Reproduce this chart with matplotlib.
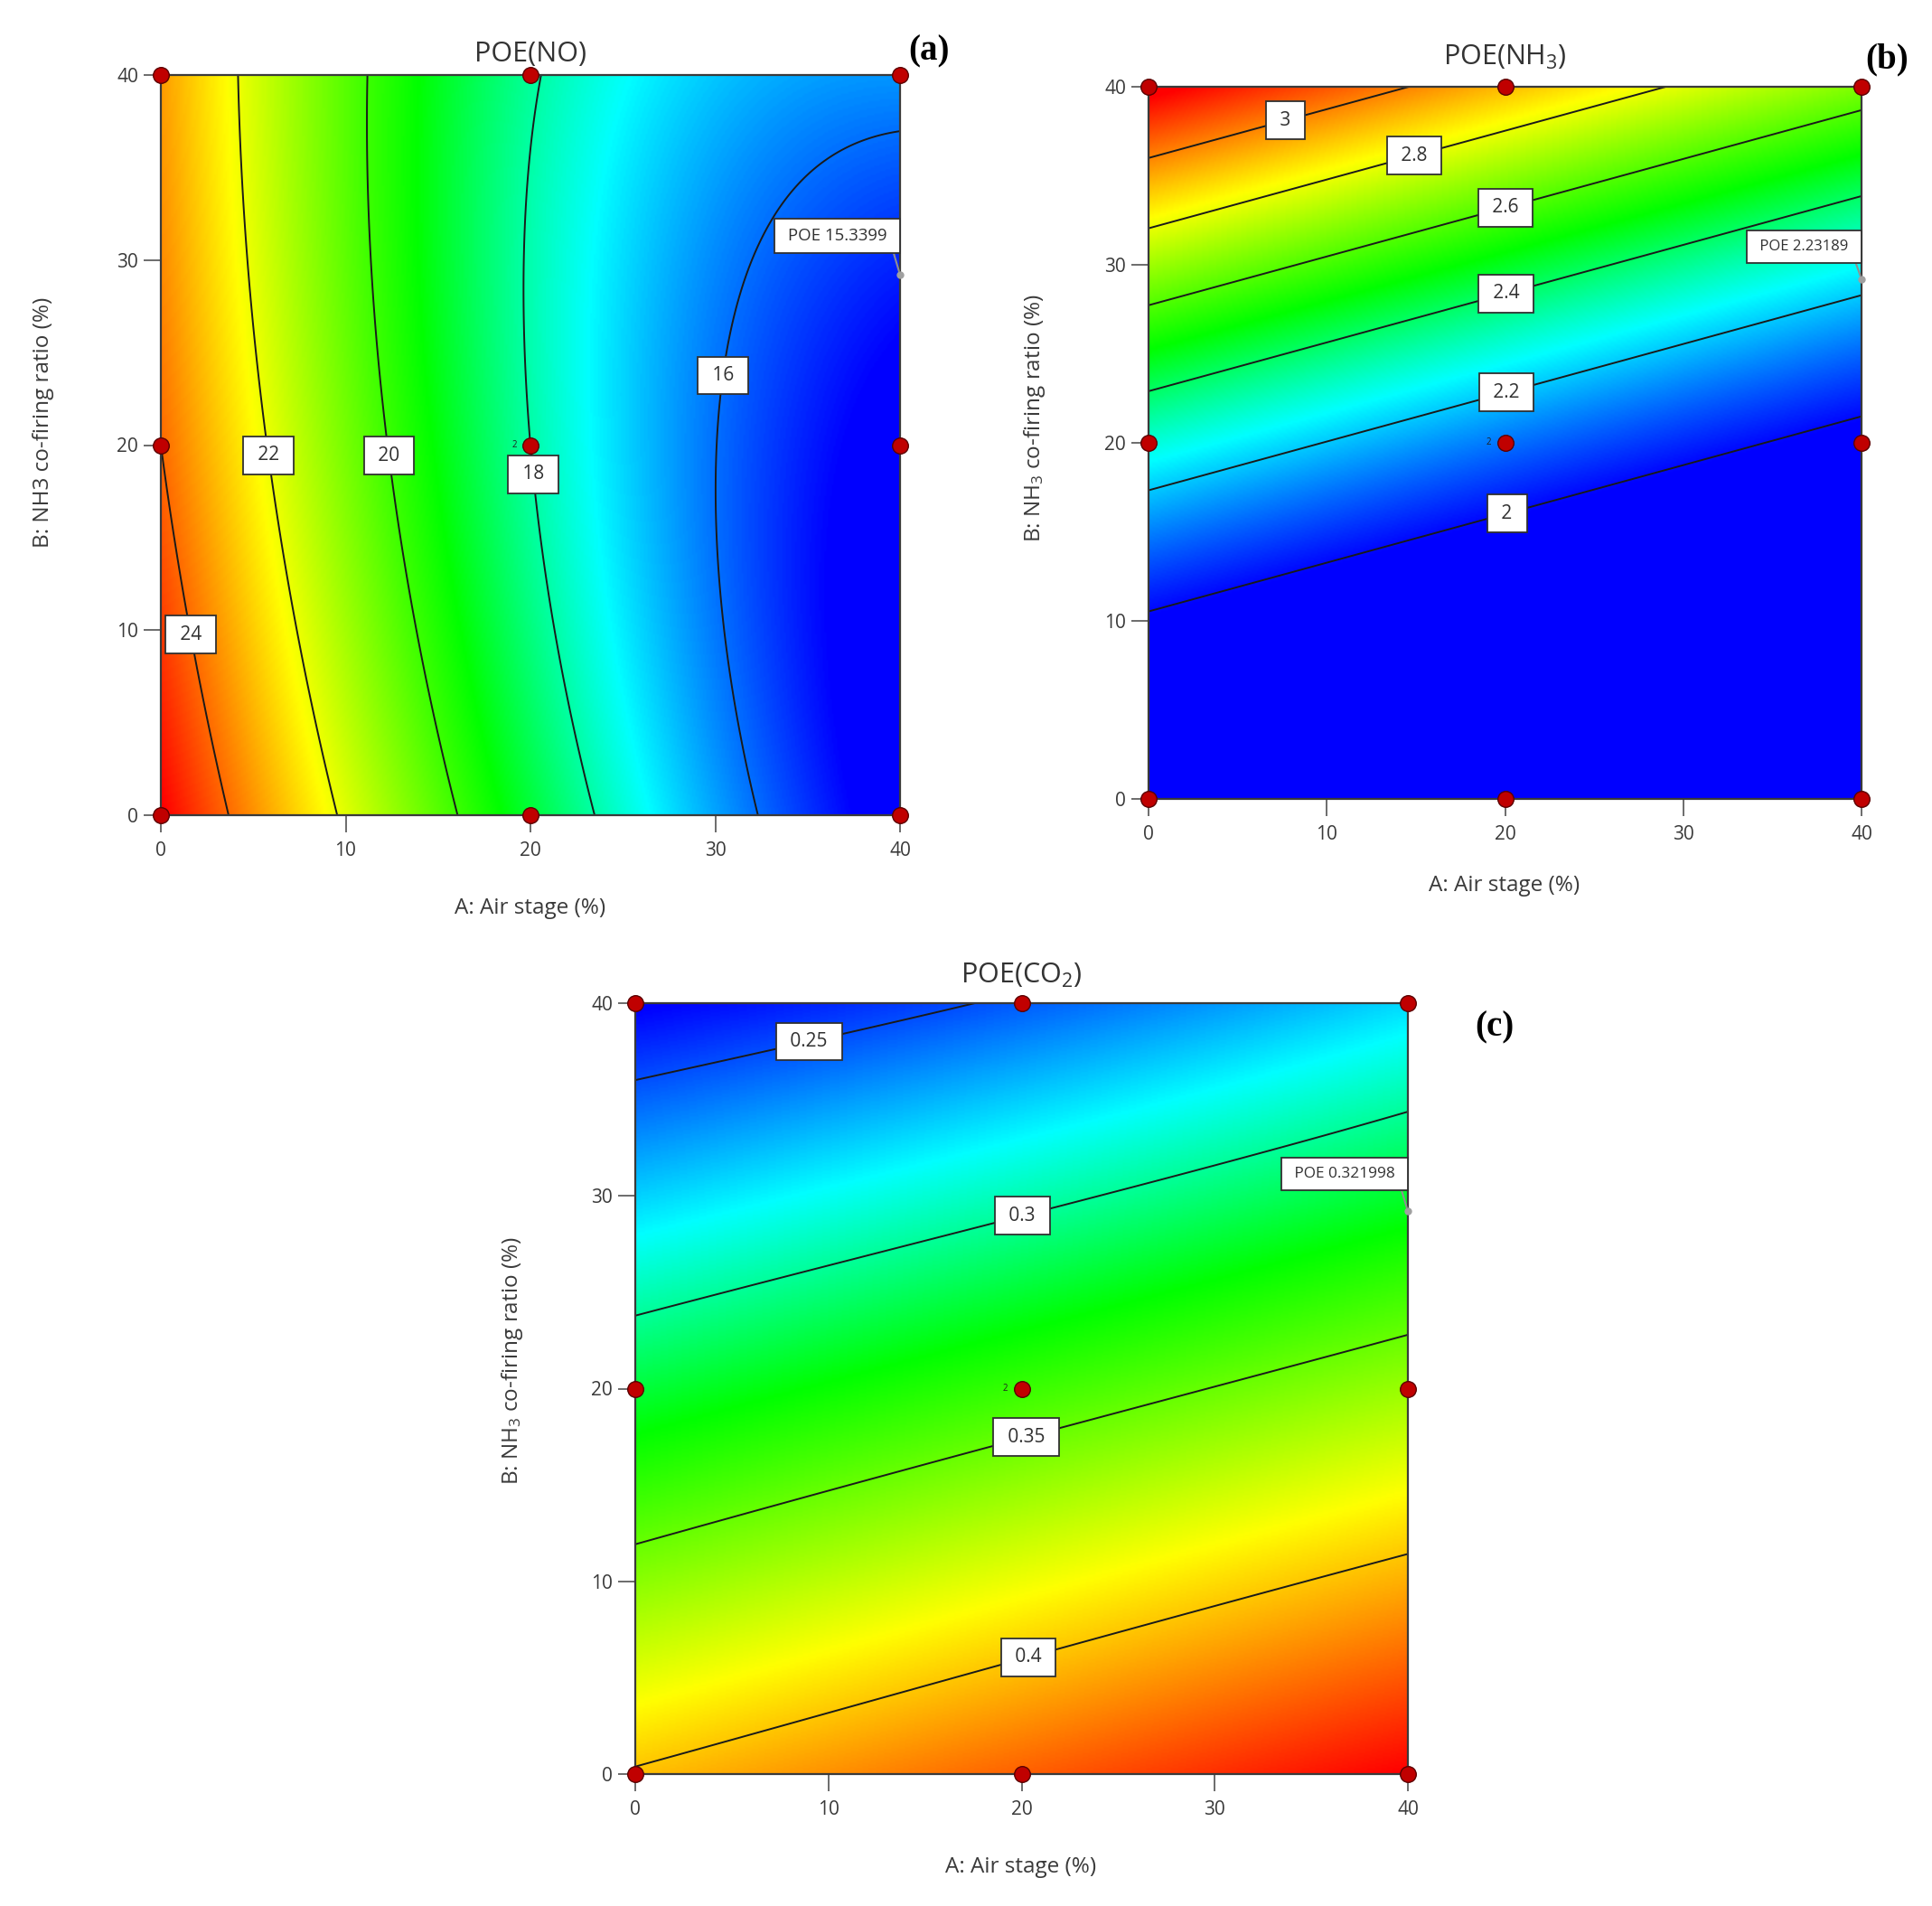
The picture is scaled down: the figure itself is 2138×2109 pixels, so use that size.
import numpy as np
import matplotlib
matplotlib.use('Agg')
import matplotlib.pyplot as plt
from matplotlib.colors import LinearSegmentedColormap, Normalize

plt.rcParams['font.family'] = ['Open Sans', 'DejaVu Sans']
plt.rcParams['mathtext.default'] = 'regular'

# ---------------- data ----------------
# factor levels of the design (A: air stage %, B: NH3 co-firing ratio %)
A_levels = [0, 20, 40]
B_levels = [0, 20, 40]

# predicted responses read at the design grid, indexed [A level][B level]
poe_no = [[25.34, 24.00, 23.40],
          [18.90, 18.00, 18.10],
          [14.60, 14.70, 16.35]]
poe_nh3 = [[1.787, 2.2917, 3.2194],
           [1.7225, 2.1114, 2.9232],
           [1.6898, 1.9628, 2.6586]]
poe_co2 = [[0.4017, 0.3158, 0.2340],
           [0.4262, 0.3388, 0.2525],
           [0.4511, 0.3622, 0.2760]]

# contour levels
no_levels = [16, 18, 20, 22, 24]
nh3_levels = [2.0, 2.2, 2.4, 2.6, 2.8, 3.0]
co2_levels = [0.25, 0.30, 0.35, 0.40]

# contour label positions (A, B)
no_label_pos = [(1.8, 9.8), (5.9, 19.45), (12.5, 19.45), (19.9, 18.4), (29.4, 23.9)]
nh3_label_pos = [(7.6, 38.4), (14.8, 36.5), (20.0, 33.3), (20.0, 28.6), (20.0, 23.1), (20.1, 16.1)]
co2_label_pos = [(9.0, 38.0), (20.0, 29.1), (20.2, 17.65), (20.4, 5.9)]

# design points
design_A = [0, 20, 40, 0, 20, 40, 0, 20, 40]
design_B = [0, 0, 0, 20, 20, 20, 40, 40, 40]
center_replicates = '2'

# flagged prediction point
flag_A = 40
flag_B = 29.2
flag_no = 'POE 15.3399'
flag_nh3 = 'POE 2.23189'
flag_co2 = 'POE 0.321998'

# colour scale limits per panel
no_range = (15.0, 25.3)
nh3_range = (1.99, 3.19)
co2_range = (0.235, 0.451)

# ---------------- figure ----------------
W, H = 2138, 2109
fig = plt.figure(figsize=(W / 100, H / 100), dpi=100)

def rect(x0, y0, x1, y1):
    return [x0 / W, 1 - y1 / H, (x1 - x0) / W, (y1 - y0) / H]

def fx(px):
    return px / W

def fy(py):
    return 1 - py / H

cmap = LinearSegmentedColormap.from_list(
    'de', [(0.0, (0, 0, 1)), (0.22, (0, 1, 1)), (0.42, (0, 1, 0)),
           (0.70, (1, 1, 0)), (1.0, (1, 0, 0))])

def lagrange(t, nodes):
    n0, n1, n2 = nodes
    return [(t - n1) * (t - n2) / ((n0 - n1) * (n0 - n2)),
            (t - n0) * (t - n2) / ((n1 - n0) * (n1 - n2)),
            (t - n0) * (t - n1) / ((n2 - n0) * (n2 - n1))]

g = np.linspace(0, 40, 401)
AA, BB = np.meshgrid(g, g)
LA = lagrange(AA, A_levels)
LB = lagrange(BB, B_levels)

def surface(F):
    Z = np.zeros_like(AA)
    for i in range(3):
        for j in range(3):
            Z += F[i][j] * LA[i] * LB[j]
    return Z

TXT = '#3a3a3a'
FLAG_PADPT = 7.2

def panel(axrect, F, levels, label_pos, vrange, flag_text, flag_fs, flag_dy, title, ylab,
          title_px, xlab_px, ylab_px, plabel, plabel_px):
    ax = fig.add_axes(axrect)
    Z = surface(F)
    ax.imshow(Z, origin='lower', extent=[0, 40, 0, 40], cmap=cmap,
              norm=Normalize(*vrange), interpolation='bilinear', aspect='auto', zorder=0)
    cs = ax.contour(AA, BB, Z, levels=levels, colors='#1a1a1a', linewidths=1.4, zorder=2)
    labels = ax.clabel(cs, levels, inline=False, manual=label_pos,
                       fmt=lambda v: ' %g ' % v, fontsize=15, colors='#303030')
    for t in labels:
        t.set_rotation(0)
        t.set_bbox(dict(boxstyle='square,pad=0.5', fc='white', ec='#303030', lw=1.3))
        t.set_zorder(4)
    ax.set_xlim(0, 40)
    ax.set_ylim(0, 40)
    ax.set_xticks([0, 10, 20, 30, 40])
    ax.set_yticks([0, 10, 20, 30, 40])
    ax.tick_params(direction='out', length=14, width=1.3, color='#606060',
                   labelcolor=TXT, labelsize=15)
    ax.tick_params(axis='x', pad=7)
    ax.tick_params(axis='y', pad=4)
    for s in ax.spines.values():
        s.set_color('#3a3a3a')
        s.set_linewidth(1.6)
        s.set_zorder(3)
    ax.scatter(design_A, design_B, s=160, c='#c00000', edgecolors='#5a0000',
               linewidths=1.0, zorder=6, clip_on=False)
    ax.annotate(center_replicates, xy=(20, 20), xytext=(-11, 0), textcoords='offset points',
                ha='right', va='center', fontsize=7, color='#202020', zorder=6)
    # flag
    ax.scatter([flag_A], [flag_B], s=25, c='#a0a0a0', zorder=6, clip_on=False)
    ax.annotate(' ' + flag_text + ' ', xy=(flag_A, flag_B),
                xytext=(-FLAG_PADPT, flag_dy * 0.72 + FLAG_PADPT),
                textcoords='offset points', ha='right', va='bottom', fontsize=flag_fs,
                color='#303030', zorder=7,
                bbox=dict(boxstyle='square,pad=%g' % (FLAG_PADPT / flag_fs),
                          fc='white', ec='#303030', lw=1.3),
                arrowprops=dict(arrowstyle='-', color='#909090', lw=1.5,
                                shrinkA=0, shrinkB=3, relpos=(1, 0)))
    fig.text(fx(title_px[0]), fy(title_px[1]), title, ha='center', va='center',
             fontsize=22, color='#333333')
    fig.text(fx(xlab_px[0]), fy(xlab_px[1]), 'A: Air stage (%)', ha='center',
             va='center', fontsize=17.5, color=TXT)
    fig.text(fx(ylab_px[0]), fy(ylab_px[1]), ylab, ha='center', va='center',
             rotation=90, fontsize=17.5, color=TXT)
    fig.text(fx(plabel_px[0]), fy(plabel_px[1]), plabel, ha='center', va='center',
             fontsize=28, fontweight='bold', family='Liberation Serif', color='black')
    return ax

panel(rect(178, 83, 996, 902), poe_no, no_levels, no_label_pos, no_range,
      flag_no, 13.4, 24, 'POE(NO)', 'B: NH3 co-firing ratio (%)',
      (587, 60), (587, 1005), (48, 467), '(a)', (1028, 57))

panel(rect(1271, 96, 2060, 884), poe_nh3, nh3_levels, nh3_label_pos, nh3_range,
      flag_nh3, 12, 18, 'POE(NH$_3$)', 'B: NH$_3$ co-firing ratio (%)',
      (1665, 63), (1665, 980), (1145, 463), '(b)', (2088, 66))

panel(rect(703, 1110, 1558, 1963), poe_co2, co2_levels, co2_label_pos, co2_range,
      flag_co2, 12.4, 23, 'POE(CO$_2$)', 'B: NH$_3$ co-firing ratio (%)',
      (1130, 1079), (1130, 2066), (567, 1506), '(c)', (1654, 1137))

fig.savefig('out.png', dpi=100)
